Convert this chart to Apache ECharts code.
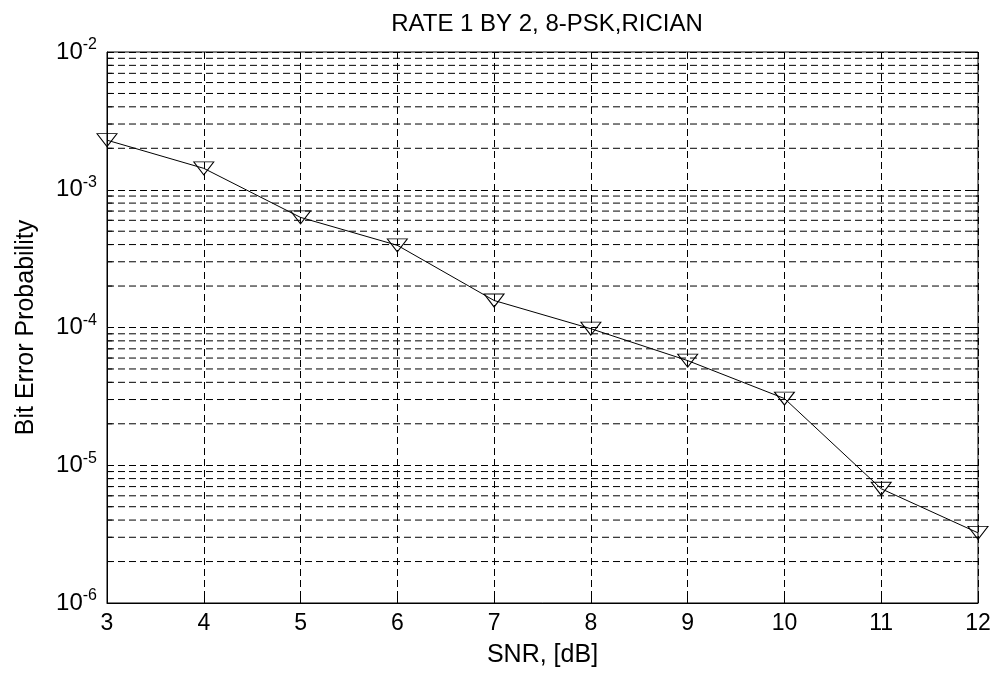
<!DOCTYPE html>
<html>
<head>
<meta charset="utf-8">
<script src="https://cdn.jsdelivr.net/npm/echarts@6/dist/echarts.min.js"></script>
<style>html,body{margin:0;padding:0;background:#fff;}#c{width:994px;height:674px;}</style>
</head>
<body>
<div id="c"></div>
<script>
var snr = [3, 4, 5, 6, 7, 8, 9, 10, 11, 12];
var ber = [2.29e-3, 1.43e-3, 6.3e-4, 3.95e-4, 1.57e-4, 9.8e-5, 5.75e-5, 3.05e-5, 6.75e-6, 3.23e-6];
var decadeExponents = [-6, -5, -4, -3];
var minorMultipliers = [2, 3, 4, 5, 6, 7, 8, 9];
var xRange = [3, 12];
var yRange = [1e-6, 1e-2];
var titleText = 'RATE 1 BY 2, 8-PSK,RICIAN';
var xName = 'SNR, [dB]';
var yName = 'Bit Error Probability';

var font = 'Liberation Sans, Arial, sans-serif';
var gridDash = { color: '#000', width: 1, type: [7, 4] };
var minorTickLen = 0.055; // in x units

var extraSeries = [];
decadeExponents.forEach(function (e) {
  minorMultipliers.forEach(function (m) {
    var v = m * Math.pow(10, e);
    extraSeries.push({
      type: 'line', silent: true, symbol: 'none', z: 1,
      data: [[xRange[0], v], [xRange[1], v]],
      lineStyle: gridDash, emphasis: { disabled: true }
    });
    extraSeries.push({
      type: 'line', silent: true, symbol: 'none', z: 2,
      data: [[xRange[0], v], [xRange[0] + minorTickLen, v]],
      lineStyle: { color: '#000', width: 1 }, emphasis: { disabled: true }
    });
    extraSeries.push({
      type: 'line', silent: true, symbol: 'none', z: 2,
      data: [[xRange[1] - minorTickLen, v], [xRange[1], v]],
      lineStyle: { color: '#000', width: 1 }, emphasis: { disabled: true }
    });
  });
});

var tickOnly = {
  axisLine: { show: false },
  axisTick: { inside: true, length: 6, lineStyle: { color: '#000' } },
  axisLabel: { show: false },
  splitLine: { show: false }
};

var chart = echarts.init(document.getElementById('c'));
chart.setOption({
  backgroundColor: '#fff',
  animation: false,
  title: {
    text: titleText,
    left: 542, textAlign: 'center', top: 7,
    textStyle: { fontFamily: font, fontSize: 24, fontWeight: 'normal', color: '#000' }
  },
  grid: { left: 107, right: 16, top: 52, bottom: 71, show: true, borderColor: '#000', borderWidth: 1, backgroundColor: '#fff' },
  xAxis: [{
    type: 'value', min: xRange[0], max: xRange[1], interval: 1,
    name: xName, nameLocation: 'middle', nameGap: 40,
    nameTextStyle: { fontFamily: font, fontSize: 25, color: '#000' },
    axisLine: { lineStyle: { color: '#000', width: 1 } },
    axisTick: { inside: true, length: 6, lineStyle: { color: '#000' } },
    axisLabel: { fontFamily: font, fontSize: 23, color: '#000', margin: 9 },
    splitLine: { show: true, lineStyle: gridDash }
  }, Object.assign({
    type: 'value', min: xRange[0], max: xRange[1], interval: 1, position: 'top'
  }, tickOnly)],
  yAxis: [{
    type: 'log', logBase: 10, min: yRange[0], max: yRange[1], interval: 1,
    name: yName, nameLocation: 'middle', nameGap: 68,
    nameTextStyle: { fontFamily: font, fontSize: 25, color: '#000' },
    axisLine: { lineStyle: { color: '#000', width: 1 } },
    axisTick: { inside: true, length: 6, lineStyle: { color: '#000' } },
    axisLabel: {
      fontFamily: font, color: '#000', margin: 10,
      formatter: function (v) {
        var e = Math.round(Math.log10(v));
        return '{b|10}{s|' + e + '}';
      },
      rich: {
        b: { fontFamily: font, fontSize: 24, color: '#000' },
        s: { fontFamily: font, fontSize: 16, color: '#000', verticalAlign: 'top', padding: [0, 0, 14, 0] }
      }
    },
    splitLine: { show: true, lineStyle: gridDash }
  }, Object.assign({
    type: 'log', logBase: 10, min: yRange[0], max: yRange[1], interval: 1, position: 'right'
  }, tickOnly)],
  series: extraSeries.concat([{
    type: 'line',
    data: snr.map(function (x, i) { return [x, ber[i]]; }),
    lineStyle: { color: '#000', width: 1 },
    symbol: 'triangle', symbolRotate: 180, symbolSize: [20, 13],
    itemStyle: { color: 'rgba(0,0,0,0)', borderColor: '#000', borderWidth: 1 },
    z: 5
  }])
});
</script>
</body>
</html>
